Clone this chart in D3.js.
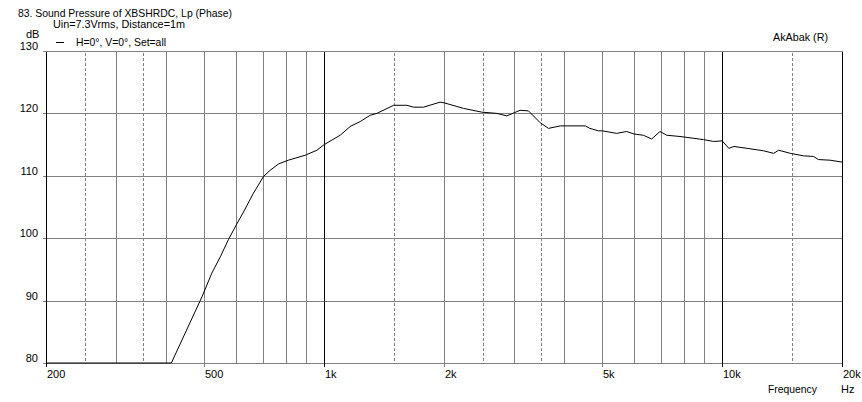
<!DOCTYPE html>
<html><head><meta charset="utf-8">
<script src="https://cdn.jsdelivr.net/npm/d3@7"></script>
<style>
html,body{margin:0;padding:0;background:#fff;}
svg{display:block;}
text{font-family:"Liberation Sans",Arial,sans-serif;font-size:11px;fill:#000;}
</style></head>
<body>
<svg id="chart" width="862" height="402"></svg>
<script>
// ---- data ----
const freqs = [200,413,493,522,548,575,601,627,664,704,732,768,813,896,959,1000,1097,1162,1232,1305,1356,1494,1613,1677,1776,1955,2000,2240,2489,2716,2876,3106,3260,3490,3660,3922,4528,4652,4888,5000,5432,5754,6000,6336,6650,6980,7255,7833,8976,9510,10000,10390,10700,11560,12710,13470,13870,14830,16010,16960,17460,18670,20000];
const spl = [80,80,90.6,94.4,97.0,99.8,102.1,104.2,107.2,109.9,110.9,111.9,112.5,113.3,114.1,115.0,116.5,117.9,118.7,119.7,120.0,121.3,121.3,121.0,121.0,121.8,121.7,120.8,120.2,120.0,119.6,120.5,120.4,118.5,117.6,118.0,118.0,117.6,117.2,117.2,116.8,117.1,116.7,116.5,115.9,117.1,116.5,116.3,115.8,115.5,115.6,114.4,114.7,114.4,114.0,113.6,114.1,113.6,113.2,113.1,112.6,112.5,112.2];
const xTicks = [200,500,1000,2000,5000,10000,20000];
const xTickLabels = ["200","500","1k","2k","5k","10k","20k"];
const yTicks = [80,90,100,110,120,130];
const gridSolid = [300,400,500,600,700,800,900,2000,3000,4000,5000,6000,7000,8000,9000];
const gridDashed = [250,350,1500,2500,3500,15000];
const gridMajor = [200,1000,10000,20000];
const title = "83. Sound Pressure of XBSHRDC, Lp (Phase)";
const subtitle = "Uin=7.3Vrms, Distance=1m";
const legendLabel = "H=0°, V=0°, Set=all";
const brand = "AkAbak (R)";

// ---- chart ----
const svg = d3.select("#chart");
const x = d3.scaleLog().domain([200,20000]).range([46,842]);
const y = d3.scaleLinear().domain([80,130]).range([363,51]);
const px = v => Math.round(x(v)) + 0.5;
const py = v => Math.round(y(v)) + 0.5;

const g = svg.append("g").attr("shape-rendering","crispEdges");
// horizontal grid
g.selectAll("line.h").data(yTicks).join("line")
  .attr("x1",43).attr("x2",842.5).attr("y1",d=>py(d)).attr("y2",d=>py(d))
  .attr("stroke","#808080");
// vertical grid
g.selectAll("line.vs").data(gridSolid).join("line")
  .attr("x1",d=>px(d)).attr("x2",d=>px(d)).attr("y1",py(130)).attr("y2",py(80))
  .attr("stroke","#808080");
g.selectAll("line.vd").data(gridDashed).join("line")
  .attr("x1",d=>px(d)).attr("x2",d=>px(d)).attr("y1",py(130)+1).attr("y2",py(80))
  .attr("stroke","#808080").attr("stroke-dasharray","3,2");
g.selectAll("line.vm").data(gridMajor).join("line")
  .attr("x1",d=>px(d)).attr("x2",d=>px(d)).attr("y1",py(130)).attr("y2",py(80))
  .attr("stroke","#000");
// bottom ticks
g.selectAll("line.xt").data(xTicks).join("line")
  .attr("x1",d=>px(d)).attr("x2",d=>px(d)).attr("y1",py(80)).attr("y2",py(80)+3)
  .attr("stroke",d=>gridMajor.includes(d)?"#000":"#808080");

// x labels
svg.selectAll("text.xl").data(xTicks).join("text")
  .attr("x",d=>Math.round(x(d))+1).attr("y",378)
  .text((d,i)=>xTickLabels[i]);
// y labels
svg.selectAll("text.yl").data(yTicks).join("text")
  .attr("x",38).attr("y",d=>Math.round(y(d))-1).attr("text-anchor","end")
  .text(d=>d);

// curve
const line = d3.line().x((d,i)=>x(freqs[i])).y(d=>y(d));
svg.append("path").datum(spl).attr("d",line)
  .attr("fill","none").attr("stroke","#000").attr("stroke-width",1)
  .attr("stroke-linejoin","round");

// texts
const T = (xx,yy,s,len) => {
  const t = svg.append("text").attr("x",xx).attr("y",yy).text(s);
  if (len) t.attr("textLength",len).attr("lengthAdjust","spacingAndGlyphs");
  return t;
};
T(18,17,title,214);
T(53,28,subtitle,132);
T(26,38,"dB");
svg.append("line").attr("x1",56).attr("x2",64).attr("y1",42.5).attr("y2",42.5)
  .attr("stroke","#000").attr("shape-rendering","crispEdges");
T(76,46,legendLabel,90);
T(773,41,brand,55);
T(768,393,"Frequency",49);
T(841,393,"Hz");
</script>
</body></html>
